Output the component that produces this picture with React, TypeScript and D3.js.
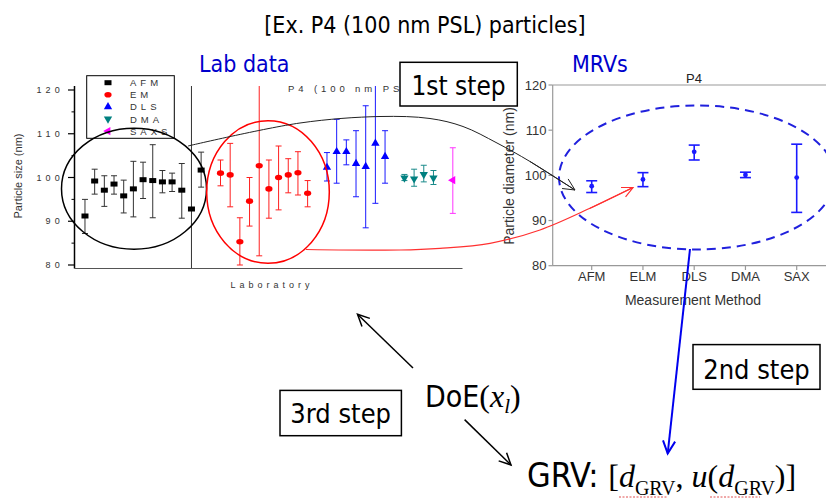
import React from 'react';
import * as d3 from 'd3';

// lab data (left panel): lab index on x, particle size (nm) on y
const afmLabs = [0, 1, 2, 3, 4, 5, 6, 7, 8, 9, 10, 11, 12];
const afmVals = [91.2, 99.2, 97.1, 98.5, 95.8, 97.4, 99.5, 99.3, 99.0, 99.0, 97.1, 92.8, 101.7];
const afmLo = [87.2, 96.2, 93.4, 96.2, 91.9, 91.0, 95.2, 90.8, 96.5, 96.8, 90.7, 60, 97.8];
const afmHi = [95.0, 101.9, 100.4, 100.4, 99.4, 103.7, 103.5, 107.5, 101.6, 101.0, 103.2, 140, 105.8];

const emLabs = [14, 15, 16, 17, 18, 19, 20, 21, 22, 23];
const emVals = [101.0, 100.6, 85.3, 94.6, 102.7, 97.4, 100.0, 100.6, 101.1, 96.4];
const emLo = [98.1, 93.3, 80.0, 88.9, 82.1, 90.7, 92.6, 96.5, 96.0, 93.3];
const emHi = [104.0, 107.8, 90.8, 100.0, 130, 104.0, 107.2, 104.3, 105.9, 99.3];

const dlsLabs = [25, 26, 27, 28, 29, 30, 31];
const dlsVals = [102.3, 105.9, 105.9, 103.2, 102.5, 107.8, 104.8];
const dlsLo = [99.2, 98.7, 102.9, 95.6, 88.5, 94.1, 98.7];
const dlsHi = [105.7, 113.3, 108.6, 110.7, 116.4, 130, 110.7];

const dmaLabs = [33, 34, 35, 36];
const dmaVals = [99.9, 99.7, 100.7, 99.9];
const dmaLo = [99.3, 98.0, 99.0, 98.4];
const dmaHi = [100.7, 101.9, 102.8, 101.6];

const saxsLabs = [38];
const saxsVals = [99.4];
const saxsLo = [91.8];
const saxsHi = [106.8];

const legendNames = ['AFM', 'EM', 'DLS', 'DMA', 'SAXS'];
const leftTicks = [80, 90, 100, 110, 120];
const leftMinor = [85, 95, 105, 115];

// method reference values (right panel)
const methods = ['AFM', 'ELM', 'DLS', 'DMA', 'SAX'];
const mrvVals = [97.6, 99.1, 105.2, 100.1, 99.5];
const mrvLo = [96.2, 97.5, 103.4, 99.5, 91.8];
const mrvHi = [98.8, 100.6, 106.7, 100.7, 106.9];
const rightTicks = [80, 90, 100, 110, 120];

const W = 826;
const H = 499;
const SLIDE = "'DejaVu Sans Condensed', 'DejaVu Sans', sans-serif";
const CHART = "'Liberation Sans', Arial, sans-serif";
const SERIF = "'Liberation Serif', 'Times New Roman', serif";

const xL = d3.scaleLinear().domain([-1, 39]).range([75.3, 462.5]);
const yL = d3.scaleLinear().domain([80, 120]).range([265, 90]);
const xR = d3.scalePoint<string>().domain(methods).range([591.7, 796.7]);
const yR = d3.scaleLinear().domain([80, 120]).range([265.7, 85]);

type Shape = 'rect' | 'dot' | 'up' | 'down' | 'left';

const series = [
  { labs: afmLabs, vals: afmVals, lo: afmLo, hi: afmHi, color: '#000000', bar: '#333333', shape: 'rect' as Shape },
  { labs: emLabs, vals: emVals, lo: emLo, hi: emHi, color: '#ff0000', bar: '#ff2020', shape: 'dot' as Shape },
  { labs: dlsLabs, vals: dlsVals, lo: dlsLo, hi: dlsHi, color: '#0000ff', bar: '#1a1aff', shape: 'up' as Shape },
  { labs: dmaLabs, vals: dmaVals, lo: dmaLo, hi: dmaHi, color: '#008080', bar: '#1a8a8a', shape: 'down' as Shape },
  { labs: saxsLabs, vals: saxsVals, lo: saxsLo, hi: saxsHi, color: '#ff00ff', bar: '#ff33ff', shape: 'left' as Shape },
];

const tri = d3.symbol().type(d3.symbolTriangle).size(30);

function Marker({ shape, x, y, color }: { shape: Shape; x: number; y: number; color: string }) {
  if (shape === 'rect') return <rect x={x - 3.5} y={y - 2.5} width={7} height={5} fill={color} />;
  if (shape === 'dot') return <ellipse cx={x} cy={y} rx={3.6} ry={2.8} fill={color} />;
  const rot = shape === 'up' ? 0 : shape === 'down' ? 180 : -90;
  return <path d={tri() as string} transform={`translate(${x},${y}) rotate(${rot})`} fill={color} />;
}

// annotation paths (slide drawing, pixel space)
const blackCurve: [number, number][] = [
  [188, 146], [300, 123], [380, 116.5], [430, 118.5], [463, 126.5], [497, 143], [530, 161.5], [575, 190],
];
const redCurve: [number, number][] = [
  [306, 249.5], [400, 250], [440, 248.3], [490, 243.3], [540, 230], [590, 208.3], [633, 187.5],
];
const curve = d3.line().curve(d3.curveCatmullRom.alpha(0.5));

function Arrow({ x1, y1, x2, y2, color, w, len }: { x1: number; y1: number; x2: number; y2: number; color: string; w: number; len: number }) {
  const a = Math.atan2(y2 - y1, x2 - x1);
  const s = 0.45;
  const p1 = [x2 - len * Math.cos(a - s), y2 - len * Math.sin(a - s)];
  const p2 = [x2 - len * Math.cos(a + s), y2 - len * Math.sin(a + s)];
  return (
    <g stroke={color} strokeWidth={w} fill="none">
      <line x1={x1} y1={y1} x2={x2} y2={y2} />
      <path d={`M${p1[0]},${p1[1]} L${x2},${y2} L${p2[0]},${p2[1]}`} />
    </g>
  );
}

export default function App() {
  const bc = blackCurve;
  const rc = redCurve;
  return (
    <svg width={W} height={H} style={{ position: 'absolute', left: 0, top: 0, background: '#fff' }}>
      <defs>
        <clipPath id="plotL">
          <rect x={70} y={86} width={400} height={182} />
        </clipPath>
        <clipPath id="plotR">
          <rect x={540} y={60} width={290} height={260} />
        </clipPath>
      </defs>
      <rect width={W} height={H} fill="#fff" />

      {/* headings */}
      <text x={425} y={33} textAnchor="middle" fontFamily={SLIDE} fontSize={23} fill="#000">
        [Ex. P4 (100 nm PSL) particles]
      </text>
      <text x={199} y={72} fontFamily={SLIDE} fontSize={23} fill="#0000cc">Lab data</text>
      <text x={572} y={72} fontFamily={SLIDE} fontSize={23} fill="#0000cc">MRVs</text>

      {/* ---------- left panel ---------- */}
      <g fontFamily={CHART}>
        <line x1={74.5} y1={86} x2={74.5} y2={268.5} stroke="#000" strokeWidth={1.5} />
        <line x1={74.5} y1={268.5} x2={xL(39)} y2={268.5} stroke="#555" strokeWidth={1.2} />
        {leftTicks.map(t => (
          <g key={t}>
            <line x1={68} x2={74.5} y1={yL(t)} y2={yL(t)} stroke="#000" strokeWidth={1.2} />
            <text x={64} y={yL(t) + 3} textAnchor="end" fontSize={9} letterSpacing={4.2} fill="#333">
              {String(t)}
            </text>
          </g>
        ))}
        {leftMinor.map(t => (
          <line key={t} x1={71.5} x2={74.5} y1={yL(t)} y2={yL(t)} stroke="#000" />
        ))}
        <text transform="translate(22,176) rotate(-90)" textAnchor="middle" fontSize={11} fill="#333">
          Particle size (nm)
        </text>
        <text x={272} y={288} textAnchor="middle" fontSize={9} letterSpacing={4} fill="#333">
          Laboratory
        </text>
        <text x={288} y={92} fontSize={9.5} letterSpacing={3.9} fill="#333">
          P4 (100 nm PSL)
        </text>

        <g clipPath="url(#plotL)">
          {series.map((s, si) => (
            <g key={si}>
              {s.labs.map((lab, i) => {
                const x = xL(lab);
                return (
                  <g key={i} stroke={s.bar} strokeWidth={1}>
                    <line x1={x} x2={x} y1={yL(s.lo[i])} y2={yL(s.hi[i])} />
                    <line x1={x - 3} x2={x + 3} y1={yL(s.lo[i])} y2={yL(s.lo[i])} />
                    <line x1={x - 3} x2={x + 3} y1={yL(s.hi[i])} y2={yL(s.hi[i])} />
                  </g>
                );
              })}
              {s.labs.map((lab, i) => (
                <Marker key={i} shape={s.shape} x={xL(lab)} y={yL(s.vals[i])} color={s.color} />
              ))}
            </g>
          ))}
        </g>

        {/* legend */}
        <rect x={86.7} y={75.7} width={87.6} height={62.6} fill="#fff" stroke="#000" strokeWidth={1} />
        {legendNames.map((n, i) => (
          <g key={n}>
            <Marker shape={series[i].shape} x={108} y={82.7 + i * 12.1} color={series[i].color} />
            <text x={130} y={82.7 + i * 12.1 + 3.5} fontSize={9.5} letterSpacing={4} fill="#333">
              {n}
            </text>
          </g>
        ))}
      </g>

      {/* ---------- right panel ---------- */}
      <g fontFamily={CHART}>
        <line x1={552.7} y1={85} x2={W} y2={85} stroke="#999" strokeWidth={1.2} />
        <line x1={552.7} y1={85} x2={552.7} y2={265.7} stroke="#999" strokeWidth={1.2} />
        <line x1={552.7} y1={265.7} x2={W} y2={265.7} stroke="#999" strokeWidth={1.2} />
        {rightTicks.map(t => (
          <g key={t}>
            <line x1={548.5} x2={552.7} y1={yR(t)} y2={yR(t)} stroke="#999" strokeWidth={1.2} />
            <text x={546.5} y={yR(t) + 4.5} textAnchor="end" fontSize={13} fill="#333">{t}</text>
          </g>
        ))}
        {methods.map(m => (
          <g key={m}>
            <line x1={xR(m)} x2={xR(m)} y1={265.7} y2={270} stroke="#999" strokeWidth={1.2} />
            <text x={xR(m)} y={281} textAnchor="middle" fontSize={13} fill="#333">{m}</text>
          </g>
        ))}
        <text x={694} y={83} textAnchor="middle" fontSize={13} fill="#222">P4</text>
        <text x={693} y={305} textAnchor="middle" fontSize={14} fill="#333">Measurement Method</text>
        <text transform="translate(514,176) rotate(-90)" textAnchor="middle" fontSize={14} fill="#333">
          Particle diameter (nm)
        </text>
        <g clipPath="url(#plotR)">
          {methods.map((m, i) => {
            const x = xR(m) as number;
            return (
              <g key={m} stroke="#1a1aff" strokeWidth={1.6}>
                <line x1={x} x2={x} y1={yR(mrvLo[i])} y2={yR(mrvHi[i])} />
                <line x1={x - 5.5} x2={x + 5.5} y1={yR(mrvLo[i])} y2={yR(mrvLo[i])} />
                <line x1={x - 5.5} x2={x + 5.5} y1={yR(mrvHi[i])} y2={yR(mrvHi[i])} />
                <circle cx={x} cy={yR(mrvVals[i])} r={2.4} fill="#1a1aff" stroke="none" />
              </g>
            );
          })}
        </g>
      </g>

      {/* ---------- annotations ---------- */}
      <ellipse cx={134} cy={188.7} rx={72.5} ry={60.5} fill="none" stroke="#000" strokeWidth={1.5} />
      <ellipse cx={268} cy={192} rx={61.3} ry={71.3} fill="none" stroke="#ff0000" strokeWidth={1.5} />
      <ellipse cx={697} cy={177.5} rx={138} ry={72} fill="none" stroke="#2020dd" strokeWidth={2}
        strokeDasharray="9,6" />

      <path d={curve(bc) as string} fill="none" stroke="#222" strokeWidth={1} />
      <Arrow x1={bc[bc.length - 2][0]} y1={bc[bc.length - 2][1]} x2={bc[bc.length - 1][0]}
        y2={bc[bc.length - 1][1]} color="#222" w={1} len={13} />
      <path d={curve(rc) as string} fill="none" stroke="#ff3030" strokeWidth={1.2} />
      <Arrow x1={rc[rc.length - 2][0]} y1={rc[rc.length - 2][1]} x2={rc[rc.length - 1][0]}
        y2={rc[rc.length - 1][1]} color="#ff3030" w={1.2} len={12} />
      <Arrow x1={690} y1={249} x2={667.7} y2={453.5} color="#0000ee" w={2} len={14} />

      <Arrow x1={413} y1={368} x2={357.5} y2={314.3} color="#000" w={1.5} len={13} />
      <Arrow x1={464.6} y1={419.6} x2={511} y2={465} color="#000" w={1.5} len={13} />

      {/* step boxes */}
      <rect x={400} y={62.3} width={117.3} height={43.7} fill="#fff" stroke="#000" strokeWidth={1.5} />
      <text x={458.6} y={95} textAnchor="middle" fontFamily={SLIDE} fontSize={26}>1st step</text>
      <rect x={693} y={344.6} width={127} height={44.7} fill="#fff" stroke="#000" strokeWidth={1.5} />
      <text x={756.5} y={379.3} textAnchor="middle" fontFamily={SLIDE} fontSize={27}>2nd step</text>
      <rect x={280} y={390.4} width={121.4} height={45.3} fill="#fff" stroke="#000" strokeWidth={1.5} />
      <text x={340.7} y={423.2} textAnchor="middle" fontFamily={SLIDE} fontSize={27}>3rd step</text>

      {/* formulas */}
      <text x={425} y={407}>
        <tspan fontFamily={SLIDE} fontSize={30}>DoE</tspan>
        <tspan fontFamily={SERIF} fontSize={32}>(</tspan>
        <tspan fontFamily={SERIF} fontSize={32} fontStyle="italic">x</tspan>
        <tspan fontFamily={SERIF} fontSize={21} fontStyle="italic" dy={6}>l</tspan>
        <tspan fontFamily={SERIF} fontSize={32} dy={-6}>)</tspan>
      </text>
      <text x={527} y={486.5}>
        <tspan fontFamily={SLIDE} fontSize={34}>GRV: </tspan>
        <tspan fontFamily={SERIF} fontSize={32}>[</tspan>
        <tspan fontFamily={SERIF} fontSize={32} fontStyle="italic">d</tspan>
        <tspan fontFamily={SERIF} fontSize={20} dy={8}>GRV</tspan>
        <tspan fontFamily={SERIF} fontSize={32} dy={-8}>, </tspan>
        <tspan fontFamily={SERIF} fontSize={32} fontStyle="italic">u</tspan>
        <tspan fontFamily={SERIF} fontSize={32}>(</tspan>
        <tspan fontFamily={SERIF} fontSize={32} fontStyle="italic">d</tspan>
        <tspan fontFamily={SERIF} fontSize={20} dy={8}>GRV</tspan>
        <tspan fontFamily={SERIF} fontSize={32} dy={-8}>)]</tspan>
      </text>
      <line x1={619} x2={668} y1={497} y2={497} stroke="#e05050" strokeWidth={1} strokeDasharray="2,1.5" />
      <line x1={710} x2={760} y1={497} y2={497} stroke="#e05050" strokeWidth={1} strokeDasharray="2,1.5" />
    </svg>
  );
}
